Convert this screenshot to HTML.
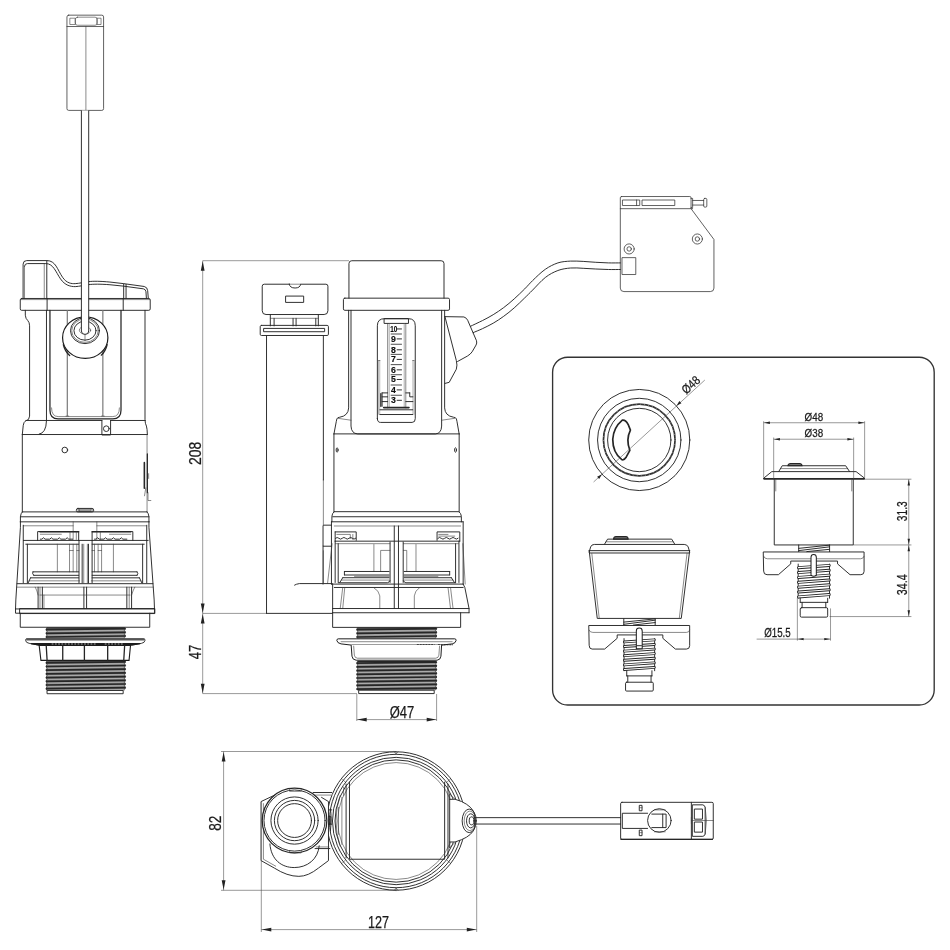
<!DOCTYPE html>
<html lang="en">
<head>
<meta charset="utf-8">
<title>Flush valve technical drawing</title>
<style>
html,body{margin:0;padding:0;background:#fff;}
body{width:950px;height:950px;overflow:hidden;font-family:"Liberation Sans",sans-serif;}
svg{display:block;position:absolute;left:0;top:0;}
svg{--k:1;}
.m{fill:none;stroke:#262626;stroke-width:calc(0.95px*var(--k));stroke-linecap:round;stroke-linejoin:round;}
.t{fill:none;stroke:#3a3a3a;stroke-width:calc(0.6px*var(--k));stroke-linecap:round;stroke-linejoin:round;}
.g{fill:none;stroke:#777;stroke-width:calc(0.6px*var(--k));}
.d{fill:none;stroke:#444;stroke-width:calc(0.55px*var(--k));}
.w{fill:#fff;}
.a{fill:#222;stroke:none;}
text{font-family:"Liberation Sans",sans-serif;fill:#1a1a1a;stroke:#1a1a1a;stroke-width:calc(0.25px*var(--k));}
svg{filter:grayscale(1);}
#relay-box .m,#left-connector .m{stroke:#3a3a3a;stroke-width:calc(0.8px*var(--k));}
text.b{font-weight:700;fill:#0d0d0d;stroke:#0d0d0d;stroke-width:calc(0.15px*var(--k));stroke-linejoin:round;}
</style>
</head>
<body>
<svg width="950" height="950" viewBox="0 0 950 950">
<rect x="0" y="0" width="950" height="950" fill="#fff"/>
<!-- 10_left_top.svgf -->
<g id="left-connector" style="--k:3.9583" transform="scale(0.252632)">
  <rect class="m" x="265" y="60" width="145" height="377" rx="7"/>
  <path class="m" d="M265,105 H410"/>
  <rect class="t" x="278" y="72" width="20" height="25"/>
  <rect class="t" x="298" y="68" width="87" height="32" rx="9"/>
  <rect class="t" x="385" y="72" width="15" height="25"/>
  <path class="t" d="M340,105 V437"/>
</g>
<g id="left-cap" style="--k:6.3333" transform="translate(10,250) scale(0.157895)">
  <!-- cap outline -->
  <path class="m" d="M83,307 V90 Q83,67 106,67 H233 C290,67 300,125 333,173 C360,212 390,214 413,213 C440,212 470,203 500,200 C530,197 567,197 633,203 L720,213 L850,231 Q870,235 872,258 L876,307"/>
  <path class="m" d="M92,103 Q93,86 110,86 H227 C275,86 290,140 320,183 C348,225 385,232 413,232 C440,231 470,222 500,219 C530,216 567,215 633,220 L720,229 L845,246 Q859,249 861,264 L864,307"/>
  <path class="t" d="M92,103 V307"/>
  <path class="t" d="M217,86 V307"/>
  <path class="m" d="M233,67 V307"/>
  <path class="m" d="M720,215 V307 M735,218 V307"/>
  <!-- collar -->
  <rect class="m" x="65" y="307" width="823" height="75" rx="9"/>
  <path class="t" d="M70,314 H884"/>
  <path class="m" d="M235,307 V382 M717,307 V382"/>
  <!-- upper body -->
  <path class="m" d="M97,382 V413 Q99,436 112,446 Q124,458 124,480 V1052 Q123,1078 100,1082 Q86,1090 84,1110 L78,1168"/>
  <path class="m" d="M231,382 V1080 Q229,1160 185,1166"/>
  <path class="m" d="M253,382 V1015 Q253,1070 305,1070 H651 Q703,1070 703,1015 V382" style="stroke-width:calc(1.25px*var(--k))"/>
  <path class="t" d="M263,1000 Q263,1055 305,1055 H651 Q693,1055 693,1000"/>
  <path class="m" d="M855,382 V1075 Q856,1100 864,1115 Q869,1130 870,1168"/>
  <path d="M363,382 V1052 M588,382 V1052" fill="none" stroke="#808080" stroke-width="8"/>
  <path class="t" d="M355,1052 H372 M580,1052 H597"/>
  <!-- ball -->
  <ellipse cx="476.5" cy="555" rx="143.5" ry="132" fill="#fff" stroke="#1c1c1c" stroke-width="7.6"/>
  <path class="m" d="M338,600 C348,640 362,655 378,668 M615,600 C606,636 594,652 578,666" style="stroke-width:calc(1.3px*var(--k))"/>
  <ellipse class="m" cx="475" cy="511" rx="92" ry="82"/>
  <ellipse class="t" cx="475" cy="511" rx="84" ry="74"/>
  <ellipse class="m" cx="475" cy="511" rx="70" ry="60"/>
  <ellipse class="t" cx="475" cy="508" rx="36" ry="24"/>
  <path class="t" d="M475,535 V575"/>
</g>
<g id="left-cable">
  <path d="M81.4,110.4 V331 Q81.4,334.4 85,334.4 Q88.7,334.4 88.7,331 V110.4" fill="#fff" stroke="#262626" stroke-width="0.95"/>
</g>
<!-- 11_left_mid.svgf -->
<g id="left-mid" style="--k:6.3333" transform="translate(10,390) scale(0.157895)">
  <path class="m" d="M100,193 H582 M637,193 H857"/>
  <path class="m" d="M78,282 H870"/>
  <path class="m" d="M582,193 V285 H637 V193"/>
  <circle class="m" cx="610" cy="245" r="18"/>
  <circle class="m" cx="347" cy="380" r="18"/>
  <path class="m" d="M78,282 V772"/>
  <path class="t" d="M868,282 V772"/>
  <path class="m" d="M851,460 V622" style="stroke-width:calc(1.6px*var(--k))"/>
  <path class="m" d="M870,405 V650" style="stroke-width:calc(1.2px*var(--k))"/>
  <path class="t" d="M860,620 L852,670 M874,650 V700 H892 M878,530 V560"/>
  <rect class="m" x="420" y="750" width="110" height="22" rx="10" style="fill:#9a9a9a"/>
  <circle class="t" cx="430" cy="761" r="8" style="fill:#fff"/>
  <circle class="t" cx="520" cy="761" r="8" style="fill:#fff"/>
    <path class="m" d="M78,772 H868"/>
  <path class="m" d="M78,772 Q68,780 66,803 V835 M868,772 Q878,780 880,803 V835"/>
  <path class="m" d="M66,803 H880"/>
  <path class="t" d="M85,860 H400 M550,860 H862"/>
  <path class="m" d="M65,835 H881"/>
  <path class="t" d="M400,835 V897 M550,835 V897"/>
</g>
<!-- 12_left_low.svgf -->
<g id="left-low" style="--k:6.3333" transform="translate(10,530) scale(0.157895)">
  <!-- outer flaring sides -->
  <path class="m" d="M66,-52 V-17 L37,443 L35,500 M880,-52 V-17 L913,443 L915,500"/>
    <!-- clips -->
  <path class="m" d="M175,66 V10 H435 V66 M520,66 V10 H778 V66"/>
  <path class="m" d="M190,11 H435 M520,11 H765" style="stroke-width:calc(1.5px*var(--k))"/>
  <path class="t" d="M192,27 H325 M380,12 V60 M400,12 V60 M420,12 V60 M550,12 V60 M572,12 V60 M630,27 H765"/>
  <path class="m" d="M192,58 h10 q10,-18 20,0 h30 q10,-18 20,0 h30 q10,-18 20,0 h30 q10,-18 20,0 h25 M535,58 h10 q10,-18 20,0 h30 q10,-18 20,0 h30 q10,-18 20,0 h30 q10,-18 20,0 h25"/>
  <path class="m" d="M85,66 H875"/>
  <path class="m" d="M100,90 H435 M520,90 H850"/>
  <!-- inner frame -->
  <path class="m" d="M84,-30 V335 M110,90 V335 M840,90 V335 M866,-30 V335"/>
  <path class="m" d="M437,66 V335 M457,90 V335 M497,90 V335 M520,66 V335"/>
  <path class="t" d="M467,90 V335 M490,90 V335"/>
  <path class="t" d="M300,90 V265 M377,90 V265 M400,90 V265 M423,90 V265 M535,90 V265 M558,90 V265 M580,90 V265 M655,90 V265 M377,130 H400 M423,130 H437 M520,130 H535 M558,130 H580"/>
  <path class="m" d="M145,265 H435 M520,265 H805"/>
  <path class="m" d="M150,287 H435 M520,287 H805 M145,265 Q138,276 150,287 M805,265 Q816,276 805,287"/>
  <path class="m" d="M130,303 H435 M520,303 H820 M130,303 L115,335 M820,303 L835,335"/>
  <path class="t" d="M120,322 H440 M515,322 H830"/>
  <path class="m" d="M45,340 H905"/>
  <path class="t" d="M42,362 H908"/>
  <path class="m" d="M178,362 V498 M205,362 V498 M468,362 V498 M485,362 V498 M740,362 V498 M770,362 V498"/>
  <path class="t" d="M190,362 V498 M215,412 V498 M755,362 V498 M160,362 Q172,385 178,412 M790,362 Q778,385 770,412"/>
  <path class="t" d="M190,412 H760"/>
  <path class="m" d="M35,500 H915 M35,500 V527 H915 V500"/>
  <path class="m" d="M65,527 V616 H885 V527"/>
</g>
<!-- 13_left_thread.svgf -->
<g id="left-thread-upper">
<rect x="46.9" y="627.4" width="77.7" height="11.8" fill="#8a8a8a"/>
<path d="M47.9,631.4 L123.6,630.4 M47.9,635.1 L123.6,634.1 M47.9,638.8 L123.6,637.8" fill="none" stroke="#c4c4c4" stroke-width="0.6"/>
<path d="M45.9,629.6 L125.6,628.6 M45.9,633.3 L125.6,632.3 M45.9,637.0 L125.6,636.0" fill="none" stroke="#262626" stroke-width="1.70"/>
<path d="M46.9,627.8 H124.6" fill="none" stroke="#262626" stroke-width="1.2"/>
<path d="M46.9,627.4 L45.9,629.6 L46.9,631.4 L45.9,633.3 L46.9,635.1 L45.9,637.0 L46.9,638.8" fill="#262626" stroke="#262626" stroke-width="0.5"/>
<path d="M124.6,627.4 L125.6,628.6 L124.6,630.4 L125.6,632.3 L124.6,634.1 L125.6,636.0 L124.6,637.8" fill="#262626" stroke="#262626" stroke-width="0.5"/>
</g>
<g id="left-thread-lower">
<rect x="46.9" y="660.6" width="77.7" height="30.0" fill="#8a8a8a"/>
<path d="M47.9,664.6 L123.6,663.6 M47.9,668.3 L123.6,667.3 M47.9,672.0 L123.6,671.0 M47.9,675.7 L123.6,674.7 M47.9,679.4 L123.6,678.4 M47.9,683.1 L123.6,682.1 M47.9,686.8 L123.6,685.8 M47.9,690.5 L123.6,689.5" fill="none" stroke="#c4c4c4" stroke-width="0.6"/>
<path d="M45.9,662.8 L125.6,661.8 M45.9,666.5 L125.6,665.5 M45.9,670.2 L125.6,669.2 M45.9,673.9 L125.6,672.9 M45.9,677.6 L125.6,676.6 M45.9,681.3 L125.6,680.3 M45.9,685.0 L125.6,684.0 M45.9,688.7 L125.6,687.7" fill="none" stroke="#262626" stroke-width="1.70"/>
<path d="M46.9,661.0 H124.6" fill="none" stroke="#262626" stroke-width="1.2"/>
<path d="M46.9,660.6 L45.9,662.8 L46.9,664.6 L45.9,666.5 L46.9,668.3 L45.9,670.2 L46.9,672.0 L45.9,673.9 L46.9,675.7 L45.9,677.6 L46.9,679.4 L45.9,681.3 L46.9,683.1 L45.9,685.0 L46.9,686.8 L45.9,688.7 L46.9,690.5" fill="#262626" stroke="#262626" stroke-width="0.5"/>
<path d="M124.6,660.6 L125.6,661.8 L124.6,663.6 L125.6,665.5 L124.6,667.3 L125.6,669.2 L124.6,671.0 L125.6,672.9 L124.6,674.7 L125.6,676.6 L124.6,678.4 L125.6,680.3 L124.6,682.1 L125.6,684.0 L124.6,685.8 L125.6,687.7 L124.6,689.5" fill="#262626" stroke="#262626" stroke-width="0.5"/>
</g>
<g id="left-nut" style="--k:6.7857" transform="translate(20,600) scale(0.147368)">
  <path class="m" d="M0,58 H915 V92 H0 Z" style="fill:none"/>
  <rect class="m" x="186" y="614" width="514" height="22" style="fill:#fff"/>
  <path d="M45,263 H840 Q850,264 848,275 Q846,290 825,294 L760,306 H125 L62,294 Q40,290 38,275 Q37,264 45,263 Z" fill="#fff" stroke="#262626" stroke-width="6.2"/>
  <path d="M42,268 H845" fill="none" stroke="#555" stroke-width="13"/>
  <path d="M75,296 L125,305 H760 L815,296 Z" fill="#1c1c1c" stroke="#1c1c1c" stroke-width="8"/>
  <path d="M215,299 H520 M575,299 H700" stroke="#fff" stroke-width="5" stroke-dasharray="12 10" fill="none"/>
  <path d="M130,308 L142,410 H740 L750,308 Z" fill="#fff" stroke="#1c1c1c" stroke-width="7.5"/>
  <path class="m" d="M178,310 L184,410 M290,310 V410 M437,310 V410 M595,310 V410 M710,310 L704,410" style="stroke-width:calc(1.3px*var(--k))"/>
</g>
<!-- 20_front_top.svgf -->
<g id="front-cap" style="--k:6.3333" transform="translate(330,250) scale(0.157895)">
  <path class="m" d="M120,305 V86 Q120,68 138,68 H704 Q722,68 722,86 V305"/>
  <rect class="m" x="85" y="305" width="672" height="77" rx="9"/>
  <path class="m" d="M118,382 V1000 Q116,1050 62,1059 L50,1062 Q42,1066 40,1085 L25,1165"/>
  <path class="m" d="M726,382 V1000 Q728,1050 782,1059 L794,1062 Q802,1066 804,1085 L818,1165"/>
  <path class="m" d="M133,382 V1115 Q135,1162 175,1165 H668 Q705,1162 707,1115 V382"/>
  <path class="t" d="M50,1066 L133,1078 M708,1078 L790,1066"/>
  <!-- window -->
  <path class="m" d="M300,1068 V480 Q300,435 345,435 H497 Q540,435 540,480 V1068 Q540,1092 520,1092 H320 Q300,1092 300,1068 Z"/>
  <rect class="m" x="345" y="435" width="152" height="30"/>
  <path class="t" d="M365,465 V1000 M480,465 V1000"/>
  <path class="g" d="M375,465 V1000 M470,465 V1000"/>
  <path class="t" d="M307,700 V1040 M315,700 V1040 M525,700 V1040 M533,700 V1040" style="stroke:#666;stroke-width:calc(0.45px*var(--k))"/>
  <path class="t" d="M308,700 H316 M524,700 H532"/>
  <!-- bottom of window -->
  <path class="m" d="M330,905 H365 M480,905 H505 M330,905 V990 M505,905 V930 H525 M330,930 H365 M330,960 H365 M480,960 H525"/>
  <path class="m" d="M340,998 H500" style="stroke-width:calc(1.6px*var(--k))"/>
  <path class="m" d="M316,1012 H524 M316,1042 H524"/>
  <path class="m" d="M322,910 V990" style="stroke-width:calc(1.3px*var(--k))"/>
  <!-- scale ticks -->
  <path class="m" d="M425,500 H453 M425,563 H453 M425,632 H453 M425,693 H453 M425,759 H453 M425,820 H453 M425,886 H453 M425,952 H453"/>
  <path class="m" d="M387,532 H453 M387,597 H453 M387,661 H453 M387,726 H453 M387,790 H453 M387,855 H453 M387,920 H453" style="stroke:#444"/>
  <g font-size="55" text-anchor="middle">
    <text class="b" x="404" y="517" textLength="45" lengthAdjust="spacingAndGlyphs">10</text>
    <text class="b" x="402" y="580">9</text>
    <text class="b" x="402" y="650">8</text>
    <text class="b" x="402" y="711">7</text>
    <text class="b" x="402" y="777">6</text>
    <text class="b" x="402" y="837">5</text>
    <text class="b" x="402" y="903">4</text>
    <text class="b" x="402" y="970">3</text>
  </g>
  <!-- side knob -->
  <path class="m" d="M728,422 L848,424 Q866,430 872,445 L928,575 Q932,590 925,602 L900,645 Q890,660 870,672 L808,706"/>
  <path class="m" d="M728,422 L800,700 Q808,730 800,755 L755,838 L728,845"/>
  </g>
<g id="front-body" style="--k:6.3333" transform="translate(330,390) scale(0.157895)">
  <path class="m" d="M25,278 H818"/>
  <path class="m" d="M25,278 V772 M818,278 V772"/>
  <ellipse class="m" cx="45" cy="380" rx="6" ry="14"/>
  <ellipse class="m" cx="795" cy="380" rx="6" ry="14"/>
  <path class="m" d="M25,772 Q14,780 12,800 V835 M818,772 Q830,780 832,800 V835"/>
</g>
<!-- 21_front_low.svgf -->
<g id="front-low" style="--k:5.9375" transform="translate(320,510) scale(0.168421)">
  <path class="m" d="M85,10 H822 M75,40 H835"/>
  <path class="m" d="M68,70 H850"/>
  <path class="t" d="M85,95 H835"/>
  <path class="m" d="M68,70 V440 M850,70 V440"/>
  <path class="t" d="M72,200 L45,434 M848,200 L862,440"/>
  <!-- small box on the left -->
  <path class="m" d="M68,90 H22 Q18,90 18,95 V215 H68 M18,215 V440"/>
  <!-- clips -->
  <path class="m" d="M90,130 H215 V180 M90,130 V185 M695,180 V130 H830 V185"/>
  <path class="t" d="M100,145 H180 V170 M195,145 V175 M705,145 H760 M705,155 H800"/>
  <path class="m" d="M92,168 q10,-10 20,0 q10,10 20,0 q10,-10 20,0 q10,10 20,0 q10,-10 20,0 q10,10 20,0 M700,168 q10,-10 20,0 q10,10 20,0 q10,-10 20,0 q10,10 20,0 q10,-10 20,0 q10,10 20,0"/>
  <path class="m" d="M90,185 H830" />
  <path class="t" d="M92,200 H415 M495,200 H822"/>
  <!-- inner frame -->
  <path class="m" d="M90,185 V430 M108,200 V430 M805,200 V430 M825,185 V430"/>
  <path class="m" d="M441,95 V585 M466,95 V585"/>
  <path class="m" d="M416,190 V430 M494,190 V430"/>
  <path class="t" d="M320,205 V365 M360,365 V240 H415 M495,240 H515 V365 M570,205 V365"/>
  <path class="m" d="M145,365 H410 M500,365 H770 M145,365 V385 M770,365 V385"/>
  <path class="m" d="M145,386 H410 M500,386 H770"/>
  <path class="t" d="M205,394 H410 M500,394 H700"/>
  <path class="m" d="M135,402 H410 M500,402 H780 M135,402 L118,430 M780,402 L798,430"/>
  <path class="t" d="M128,416 H410 M500,416 H790"/>
  <path class="m" d="M110,432 H400 Q412,430 415,420 M495,420 Q498,430 510,432 H805"/>
  <path class="m" d="M68,440 H850"/>
  <path class="m" d="M85,460 H850"/>
  <path class="m" d="M75,440 V610 M850,440 L860,460 L885,585 V610"/>
  <path class="t" d="M135,460 L120,585 M147,460 L135,585 M760,460 L775,585 M775,460 L790,585"/>
  <path class="t" d="M318,460 Q352,480 355,510 V585 M592,460 Q562,480 560,510 V585"/>
  <path class="m" d="M75,585 H885"/>
  <path class="m" d="M75,610 H885"/>
  <path class="m" d="M75,610 V697 H835 V610"/>
</g>
<!-- 22_front_pipe.svgf -->
<g id="overflow-pipe" style="--k:3.9583" transform="translate(240,240) scale(0.252632)">
  <path class="m" d="M195,175 H96 Q88,175 88,183 V280 Q88,295 103,295 H333 Q348,295 348,280 V183 Q348,175 340,175 H240 Q238,190 218,190 Q197,190 195,175 Z"/>
  <path class="t" d="M195,175 H240"/>
  <rect class="m" x="182" y="222" width="70" height="25"/>
  <path class="m" d="M120,295 V340 M310,295 V340 M135,310 V340 M300,310 V340 M210,310 V340 M222,310 V340"/>
  <path class="t" d="M120,310 H310"/>
  <rect class="m" x="80" y="338" width="270" height="40" rx="5"/>
  <rect class="m" x="95" y="350" width="240" height="13"/>
  <path class="m" d="M105,378 V1478 M330,378 V950"/>
  <path class="m" d="M105,1478 H365"/>
  <path class="m" d="M365,1360 H235 Q222,1362 216,1366"/>
  <path class="t" d="M330,950 V1130 M330,1230 V1360"/>
</g>
<!-- 23_front_thread.svgf -->
<g id="front-thread-upper">
<rect x="357.6" y="627.4" width="78.2" height="11.8" fill="#8a8a8a"/>
<path d="M358.6,631.4 L434.8,630.4 M358.6,635.1 L434.8,634.1 M358.6,638.8 L434.8,637.8" fill="none" stroke="#c4c4c4" stroke-width="0.6"/>
<path d="M356.6,629.6 L436.8,628.6 M356.6,633.3 L436.8,632.3 M356.6,637.0 L436.8,636.0" fill="none" stroke="#262626" stroke-width="1.70"/>
<path d="M357.6,627.8 H435.8" fill="none" stroke="#262626" stroke-width="1.2"/>
<path d="M357.6,627.4 L356.6,629.6 L357.6,631.4 L356.6,633.3 L357.6,635.1 L356.6,637.0 L357.6,638.8" fill="#262626" stroke="#262626" stroke-width="0.5"/>
<path d="M435.8,627.4 L436.8,628.6 L435.8,630.4 L436.8,632.3 L435.8,634.1 L436.8,636.0 L435.8,637.8" fill="#262626" stroke="#262626" stroke-width="0.5"/>
</g>
<g id="front-thread-lower">
<rect x="357.6" y="661.0" width="78.2" height="29.4" fill="#8a8a8a"/>
<path d="M358.6,665.0 L434.8,664.0 M358.6,668.7 L434.8,667.7 M358.6,672.4 L434.8,671.4 M358.6,676.1 L434.8,675.1 M358.6,679.8 L434.8,678.8 M358.6,683.5 L434.8,682.5 M358.6,687.2 L434.8,686.2" fill="none" stroke="#c4c4c4" stroke-width="0.6"/>
<path d="M356.6,663.2 L436.8,662.2 M356.6,666.9 L436.8,665.9 M356.6,670.6 L436.8,669.6 M356.6,674.3 L436.8,673.3 M356.6,678.0 L436.8,677.0 M356.6,681.7 L436.8,680.7 M356.6,685.4 L436.8,684.4 M356.6,689.1 L436.8,688.1" fill="none" stroke="#262626" stroke-width="1.70"/>
<path d="M357.6,661.4 H435.8" fill="none" stroke="#262626" stroke-width="1.2"/>
<path d="M357.6,661.0 L356.6,663.2 L357.6,665.0 L356.6,666.9 L357.6,668.7 L356.6,670.6 L357.6,672.4 L356.6,674.3 L357.6,676.1 L356.6,678.0 L357.6,679.8 L356.6,681.7 L357.6,683.5 L356.6,685.4 L357.6,687.2 L356.6,689.1 L357.6,690.4" fill="#262626" stroke="#262626" stroke-width="0.5"/>
<path d="M435.8,661.0 L436.8,662.2 L435.8,664.0 L436.8,665.9 L435.8,667.7 L436.8,669.6 L435.8,671.4 L436.8,673.3 L435.8,675.1 L436.8,677.0 L435.8,678.8 L436.8,680.7 L435.8,682.5 L436.8,684.4 L435.8,686.2 L436.8,688.1 L435.8,689.9" fill="#262626" stroke="#262626" stroke-width="0.5"/>
</g>
<g id="front-flange" style="--k:5.9375" transform="translate(320,510) scale(0.168421)">
  <rect class="m" x="232" y="1070" width="446" height="20" style="fill:#fff"/>
  <path d="M108,765 H800 Q810,766 808,775 Q806,790 785,795 L722,802 H185 L125,795 Q102,790 100,775 Q99,766 108,765 Z" fill="#fff" stroke="#1c1c1c" stroke-width="5.9"/>
  <path class="t" d="M125,782 H785"/>
  <path d="M575,800 H680 M700,800 H790" stroke="#222" stroke-width="7" stroke-dasharray="12 5" fill="none"/>
  <path d="M185,802 L190,868 Q192,890 215,892 H695 Q716,890 718,868 L722,802" fill="#fff" stroke="#1c1c1c" stroke-width="5.9"/>
  <path class="t" d="M200,808 L204,862 Q206,878 222,880 H688 Q704,878 706,862 L710,808"/>
</g>
<!-- 30_dims_main.svgf -->
<g id="dims-main">
  <!-- 208 / 47 vertical dimension -->
  <path class="d" d="M202.7,260.7 H349 M202.7,613.4 H266 M202.7,693.6 H357"/>
  <path class="d" d="M202.7,260.7 V693.6"/>
  <path class="a" d="M202.7,261.2 l-1.9,9.5 h3.8 z M202.7,613 l-1.9,-9.5 h3.8 z M202.7,614 l-1.9,9.5 h3.8 z M202.7,693.2 l-1.9,-9.5 h3.8 z"/>
  <text transform="translate(200.7,453.3) rotate(-90)" font-size="16.6" text-anchor="middle" textLength="23.2" lengthAdjust="spacingAndGlyphs">208</text>
  <text transform="translate(200.8,652) rotate(-90)" font-size="16.6" text-anchor="middle" textLength="14.5" lengthAdjust="spacingAndGlyphs">47</text>
  <!-- diameter 47 -->
  <path class="d" d="M356.8,694 V721 M436.6,694 V721 M356.8,719.6 H436.6"/>
  <path class="a" d="M357.2,719.6 l9.5,-1.9 v3.8 z M436.2,719.6 l-9.5,-1.9 v3.8 z"/>
  <text x="402" y="718.1" font-size="16" text-anchor="middle" textLength="24.5" lengthAdjust="spacingAndGlyphs">Ø47</text>
  <!-- 82 -->
  <path class="d" d="M221,751.5 H396 M221,890.3 H396 M223.6,751.5 V890.3"/>
  <path class="a" d="M223.6,752 l-1.9,9.5 h3.8 z M223.6,889.8 l-1.9,-9.5 h3.8 z"/>
  <text transform="translate(221.2,823.2) rotate(-90)" font-size="16.6" text-anchor="middle" textLength="15.2" lengthAdjust="spacingAndGlyphs">82</text>
  <!-- 127 -->
  <path class="d" d="M261.3,802 V932 M476.7,826 V932 M261.3,929.6 H476.7"/>
  <path class="a" d="M261.8,929.6 l9.5,-1.9 v3.8 z M476.3,929.6 l-9.5,-1.9 v3.8 z"/>
  <text x="378.6" y="927.6" font-size="16.3" text-anchor="middle" textLength="21" lengthAdjust="spacingAndGlyphs">127</text>
</g>
<!-- 40_bottom_view.svgf -->
<g id="bottom-valve" style="--k:5.9375" transform="translate(320,740) scale(0.168421)">
  <circle class="m" cx="452" cy="481" r="411"/>
  <circle class="m" cx="452" cy="481" r="396"/>
  <circle class="t" cx="452" cy="481" r="347"/>
  <circle class="m" cx="452" cy="481" r="378"/>
  <circle class="m" cx="452" cy="481" r="363"/>
  <path class="m" d="M175,250 V708 H740 V250"/>
  <path class="m" d="M155,262 V700 M760,262 V700"/>
  <path class="t" d="M140,280 V330 M120,330 Q95,400 95,480 Q95,560 120,630 M130,340 V620 M110,400 V560"/>
  <path class="m" d="M70,415 H45 V500 H70 M62,410 Q70,460 62,540"/>
  <path class="t" d="M452,68 V82 M440,70 L452,82 L464,70 M452,880 V895 M440,893 L452,880 L464,893 M135,235 L150,250 M770,235 L755,250 M135,728 L150,714 M770,728 L755,714"/>
  <!-- knob -->
  <path class="w" d="M770,352 Q800,345 840,365 Q905,395 918,440 Q925,480 918,522 Q905,565 840,592 Q800,612 770,606 Z"/>
  <path class="m" d="M770,352 Q800,345 840,365 Q905,395 918,440 Q925,480 918,522 Q905,565 840,592 Q800,612 770,606"/>
  <path class="m" d="M770,320 V640"/>
  <ellipse class="m" cx="886" cy="480" rx="42" ry="70"/>
  <ellipse class="t" cx="890" cy="480" rx="34" ry="58"/>
  <ellipse class="m" cx="895" cy="480" rx="25" ry="42"/>
  <ellipse class="m" cx="900" cy="480" rx="14" ry="24"/>
  <path class="t" d="M770,320 L800,350 M770,640 L800,610"/>
</g>
<g id="bottom-pipe" style="--k:4.3182" transform="translate(190,730) scale(0.231579)">
  <path class="w" d="M307,309 L368,280 L540,271 L568,291 L598,309 V564 L555,596 Q510,632 470,632 Q420,632 364,596 L307,564 Z"/>
  <path class="m" d="M368,280 L307,309 V564 L364,596 Q420,632 470,632 Q510,632 555,596 L598,564 V309 L568,291"/>
  <path class="t" d="M317,318 V558 L370,588"/>
  <path class="m" d="M532,270 H612 M540,512 H604"/>
  <path class="t" d="M540,281 H608 M545,505 H600"/>
  <path class="m" d="M345,492 C350,560 395,594 450,594 C505,594 553,560 558,500"/>
  <circle cx="451.4" cy="391" r="139.5" fill="#fff" stroke="#262626" stroke-width="5.4"/>
  <circle class="m" cx="451.4" cy="391" r="132"/>
  <circle class="m" cx="451.4" cy="391" r="102"/>
  <circle class="m" cx="451.4" cy="391" r="87"/>
  <circle class="m" cx="451.4" cy="391" r="73"/>
  <path class="t" d="M430,253 V265 H480 V253 M430,521 V531 H480 V521"/>
  <path class="m" d="M598,374 H608 V406 H598"/>
</g>
<g id="bottom-cable" style="--k:5.9375" transform="translate(560,740) scale(0.168421)">
  <path class="m" d="M-508,461 H360 M-508,499 H360"/>
  <path class="m" d="M368,370 H780 V590 H368 Q360,590 360,582 V378 Q360,370 368,370 Z"/>
  <path class="m" d="M780,370 H902 Q910,370 910,378 V582 Q910,590 902,590 H780"/>
  <path class="m" d="M362,590 H905" style="stroke-width:calc(1.4px*var(--k))"/>
  <path class="m" d="M520,435 H370 V525 H520"/>
  <circle class="m" cx="590" cy="478" r="70"/>
  <path class="m" d="M545,440 H630 V520 H545 M610,440 V520"/>
  <path class="t" d="M560,415 H625 M560,545 H625"/>
  <rect class="m" x="473" y="388" width="14" height="32"/>
  <rect class="m" x="473" y="535" width="14" height="33"/>
  <path class="t" d="M473,402 H487 M473,550 H487"/>
  <path class="m" d="M788,385 H848 Q860,388 862,400 V558 Q860,570 848,572 H788 Z"/>
  <rect class="m" x="800" y="410" width="46" height="60"/>
  <rect class="m" x="800" y="487" width="46" height="60"/>
  <path class="t" d="M780,478 H910 M862,400 Q878,478 862,558 M780,460 V495"/>
</g>
<!-- 50_box.svgf -->
<g id="relay-box" style="--k:6.3333" transform="translate(590,170) scale(0.157895)">
  <path class="m" d="M200,168 H632 Q640,168 640,176 V245 L785,440 V748 Q785,770 762,770 H215 Q192,770 192,748 V176 Q192,168 200,168 Z"/>
  <path class="m" d="M192,245 H650"/>
  <rect class="m" x="208" y="190" width="107" height="35"/>
  <path class="m" d="M295,190 V225"/>
  <rect class="m" x="332" y="190" width="205" height="35"/>
  <path class="m" d="M640,180 H650 V238 H640 M650,193 H720 M650,222 H720"/>
  <rect class="m" x="720" y="180" width="20" height="55" rx="7"/>
  <circle class="m" cx="680" cy="437" r="32"/>
  <circle class="m" cx="680" cy="437" r="14"/>
  <circle class="m" cx="248" cy="500" r="32"/>
  <circle class="m" cx="248" cy="500" r="14"/>
  <rect class="m" x="205" y="555" width="85" height="107"/>
</g>
<g id="box-cable">
  <path class="m" d="M470.5,326.3 C472.5,325.3 478.8,322.4 482.6,320.5 C486.4,318.6 489.7,316.8 493.2,314.7 C496.7,312.6 500.2,310.2 503.7,307.6 C507.2,305.0 510.7,302.0 514.2,298.9 C517.7,295.8 521.6,291.9 524.7,288.9 C527.8,285.8 529.2,283.9 532.6,280.6 C536.0,277.3 541.1,272.2 545.3,269.3 C549.5,266.4 553.7,264.3 557.9,262.9 C562.1,261.5 566.3,261.4 570.5,261.1 C574.7,260.9 579.0,261.2 583.2,261.4 C587.4,261.6 591.6,262.1 595.8,262.3 C600.0,262.6 604.3,262.8 608.4,262.9 C612.5,263.0 618.4,262.9 620.4,262.9"/>
  <path class="m" d="M473.2,332.6 C474.8,331.9 479.3,330.2 482.6,328.6 C485.9,327.0 489.7,325.2 493.2,323.2 C496.7,321.1 500.2,318.9 503.7,316.3 C507.2,313.8 510.7,311.0 514.2,307.9 C517.7,304.8 521.6,300.9 524.7,297.9 C527.8,294.9 529.2,293.5 532.6,290.1 C536.0,286.7 541.1,280.8 545.3,277.5 C549.5,274.2 553.7,272.1 557.9,270.5 C562.1,268.9 566.3,268.4 570.5,268.0 C574.7,267.6 579.0,268.1 583.2,268.3 C587.4,268.5 591.6,268.8 595.8,269.0 C600.0,269.2 604.3,269.4 608.4,269.5 C612.5,269.6 618.4,269.5 620.4,269.5"/>
</g>
<!-- 60_inset.svgf -->
<g id="inset-frame">
  <rect class="m" x="552.6" y="357.2" width="381.6" height="347.8" rx="15" ry="15" style="stroke-width:1.35px;stroke:#333"/>
</g>
<g id="inset-top-view" style="--k:6.7857" transform="translate(570,370) scale(0.147368)">
  <circle class="m" cx="470" cy="475" r="343"/>
  <circle class="m" cx="470" cy="475" r="283"/>
  <circle class="m" cx="470" cy="475" r="243" style="stroke-width:calc(1.7px*var(--k));stroke:#333"/>
  <circle cx="470" cy="475" r="243" fill="none" stroke="#fff" stroke-width="3" stroke-dasharray="6 22"/>
  <circle class="m" cx="470" cy="475" r="215"/>
  <path class="m" d="M355,340 Q378,336 395,370 L410,408 Q378,472 406,545 L382,590 Q365,616 350,607 Q290,560 290,470 Q295,390 355,340 Z" style="stroke-width:calc(1.7px*var(--k))"/>
  <path class="d" d="M160,760 L915,68"/>
  <path class="a" d="M723,243 l33,-18 l-14,-15 z M217,707 l-33,18 l14,15 z"/>
  <text transform="translate(820,102) rotate(-42.5)" font-size="84" text-anchor="middle" textLength="135" lengthAdjust="spacingAndGlyphs" dy="28">Ø48</text>
</g>
<g id="inset-side-a" style="--k:6.7857" transform="translate(570,530) scale(0.147368)">
  <path class="m" d="M295,62 Q297,45 312,45 H380 Q393,45 395,62 Z" style="stroke-width:calc(1.1px*var(--k));fill:#777"/>
  <path class="m" d="M235,95 L255,62 H690 L710,95"/>
  <path class="t" d="M245,80 H700"/>
  <path class="m" d="M130,150 L140,115 Q146,98 165,98 H775 Q795,98 802,115 L812,150"/>
  <path class="m" d="M130,140 H812 M132,156 H810"/>
  <path class="m" d="M130,140 L132,156 L185,600 H755 L810,156 L812,140"/>
  <path class="t" d="M148,160 L198,596 M794,160 L742,596"/>
  <!-- spring top -->
  <path class="m" d="M365,603 V645 M578,603 V645 M365,640 L578,612 M365,625 L578,603 M430,645 L578,628"/>
  <!-- bracket -->
  <path class="m" d="M130,648 H812 V785 Q812,808 790,808 H715 L630,735 V712 H320 V735 L235,808 H150 Q130,808 130,785 Z"/>
  <path class="t" d="M130,680 Q135,695 155,695 H790 Q808,695 812,680"/>
  <!-- screw -->
  <rect x="366.7" y="737.0" width="207.6" height="218.0" fill="#fff"/>
  <path class="m" d="M366.7,737.0 V955.0 M574.3,737.0 V955.0"/>
  <path d="M368.7,759.6 L572.3,745.6 M368.7,790.7 L572.3,776.7 M368.7,821.9 L572.3,807.9 M368.7,853.0 L572.3,839.0 M368.7,884.1 L572.3,870.1 M368.7,915.3 L572.3,901.3 M368.7,946.4 L572.3,932.4" fill="none" stroke="#262626" stroke-width="19.3" stroke-linecap="round"/>
  <path d="M368.7,759.6 L572.3,745.6 M368.7,790.7 L572.3,776.7 M368.7,821.9 L572.3,807.9 M368.7,853.0 L572.3,839.0 M368.7,884.1 L572.3,870.1 M368.7,915.3 L572.3,901.3 M368.7,946.4 L572.3,932.4" fill="none" stroke="#fff" stroke-width="7.1" stroke-linecap="round"/>
  <path class="m" d="M385,955 V990 M556,955 V990 M392,990 V1033 M550,990 V1033 M385,990 H556"/>
  <rect class="m" x="377" y="1033" width="188" height="60" rx="7"/>
  <!-- pin -->
  <path d="M450,685 Q450,665 470,665 Q490,665 490,685 V805 H450 Z" fill="#fff" stroke="#1c1c1c" stroke-width="6.8"/>
  <path class="m" d="M455,785 H485"/>
</g>
<g id="inset-side-b" style="--k:5.2778" transform="translate(750,400) scale(0.189474)">
  <path class="m" d="M200,347 Q202,335 214,335 H262 Q273,335 275,347 Z" style="stroke-width:calc(1.1px*var(--k));fill:#777"/>
  <path class="m" d="M152,377 L170,347 H505 L525,377"/>
  <path class="t" d="M160,362 H516"/>
  <path class="m" d="M72,413 L115,378 H560 L605,413 Z"/>
  <path class="m" d="M74,417 H603" style="stroke-width:calc(1.4px*var(--k))"/>
  <path class="m" d="M128,420 V765 H545 V420"/>
  <path class="t" d="M136,420 V480 M537,420 V480"/>
  <!-- spring top -->
  <path class="m" d="M257,765 V800 M420,765 V800 M257,795 L420,775 M257,783 L420,766 M300,800 L420,788"/>
  <!-- bracket -->
  <path class="m" d="M72,802 H602 V905 Q602,922 585,922 H528 L462,865 V850 H215 V865 L150,922 H90 Q72,922 72,905 Z"/>
  <path class="t" d="M72,825 Q76,838 92,838 H584 Q598,838 602,825"/>
  <!-- screw -->
  <rect x="254.4" y="866.0" width="165.2" height="180.0" fill="#fff"/>
  <path class="m" d="M254.4,866.0 V1046.0 M419.6,866.0 V1046.0"/>
  <path d="M256.0,884.9 L418.0,872.9 M256.0,910.6 L418.0,898.6 M256.0,936.3 L418.0,924.3 M256.0,962.0 L418.0,950.0 M256.0,987.7 L418.0,975.7 M256.0,1013.4 L418.0,1001.4 M256.0,1039.1 L418.0,1027.1" fill="none" stroke="#262626" stroke-width="15.9" stroke-linecap="round"/>
  <path d="M256.0,884.9 L418.0,872.9 M256.0,910.6 L418.0,898.6 M256.0,936.3 L418.0,924.3 M256.0,962.0 L418.0,950.0 M256.0,987.7 L418.0,975.7 M256.0,1013.4 L418.0,1001.4 M256.0,1039.1 L418.0,1027.1" fill="none" stroke="#fff" stroke-width="6.4" stroke-linecap="round"/>
  <path class="m" d="M265,1046 V1068 M410,1046 V1068 M265,1068 H410 M275,1068 V1096 M400,1068 V1096"/>
  <rect class="m" x="265" y="1096" width="145" height="50" rx="7"/>
  <!-- pin -->
  <path d="M322,830 Q322,815 336,815 Q350,815 350,830 V925 Q336,935 322,925 Z" fill="#fff" stroke="#1c1c1c" stroke-width="5.3"/>
  <!-- dims -->
  <path class="d" d="M72,112 V410 M605,112 V410 M125,198 V420 M547,198 V420"/>
  <path class="d" d="M72,120 H605 M125,207 H547"/>
  <path class="a" d="M74,120 l31,-6.5 v13 z M603,120 l-31,-6.5 v13 z M127,207 l31,-6.5 v13 z M545,207 l-31,-6.5 v13 z"/>
  <path class="d" d="M605,418 H852 M545,765 H852 M420,1143 H852 M838,418 V1143"/>
  <path class="a" d="M838,420 l-6.5,31 h13 z M838,763 l-6.5,-31 h13 z M838,767 l-6.5,31 h13 z M838,1141 l-6.5,-31 h13 z"/>
  <path class="d" d="M250,1045 V1270 M425,1100 V1270 M35,1262 H425"/>
  <path class="a" d="M252,1262 l31,-6.5 v13 z M423,1262 l-31,-6.5 v13 z"/>
  <text x="337" y="110" font-size="62" text-anchor="middle" textLength="98" lengthAdjust="spacingAndGlyphs">Ø48</text>
  <text x="337" y="197" font-size="62" text-anchor="middle" textLength="98" lengthAdjust="spacingAndGlyphs">Ø38</text>
  <text transform="translate(828,587) rotate(-90)" font-size="74" text-anchor="middle" textLength="105" lengthAdjust="spacingAndGlyphs">31.3</text>
  <text transform="translate(828,975) rotate(-90)" font-size="74" text-anchor="middle" textLength="110" lengthAdjust="spacingAndGlyphs">34.4</text>
  <text x="145" y="1253" font-size="66" text-anchor="middle" textLength="140" lengthAdjust="spacingAndGlyphs">Ø15.5</text>
</g>
</svg>
</body>
</html>
